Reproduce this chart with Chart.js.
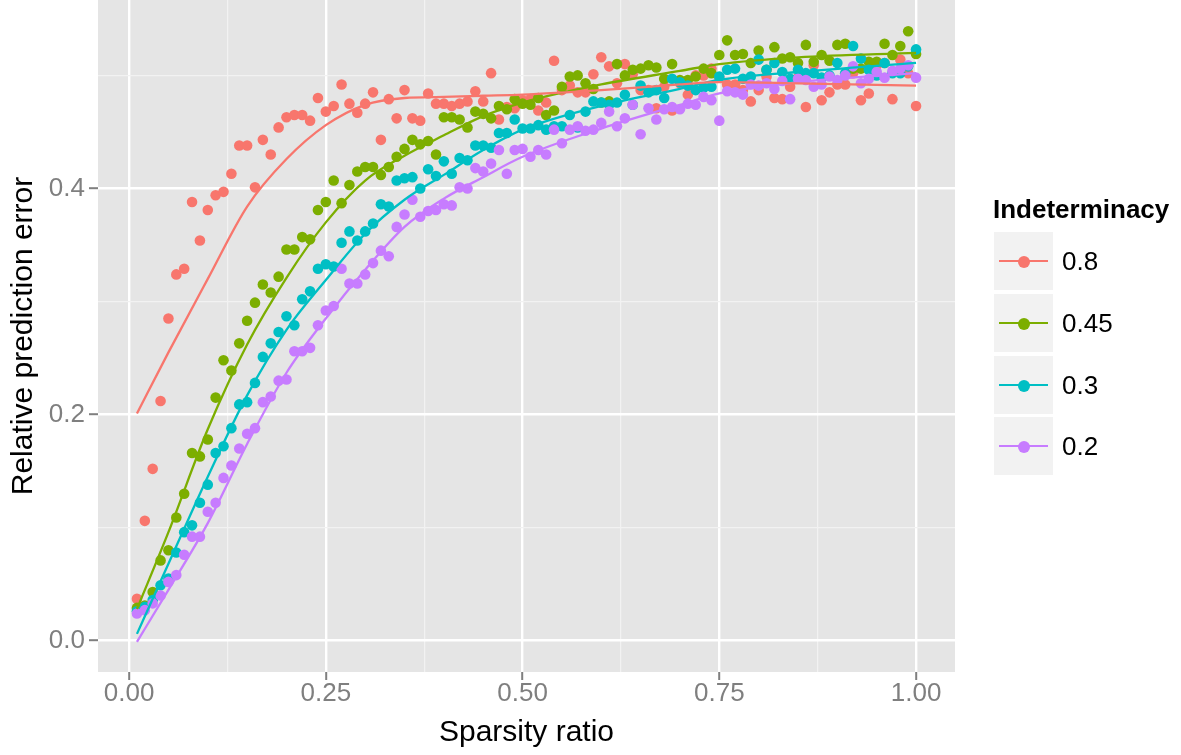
<!DOCTYPE html>
<html>
<head>
<meta charset="utf-8">
<script src="https://cdn.jsdelivr.net/npm/chart.js@4.4.1/dist/chart.umd.min.js"></script>
<style>
  body { margin: 0; background: #fff; font-family: "Liberation Sans", Arial, sans-serif; }
  #wrap { position: relative; width: 1181px; height: 755px; }
  #legend { position: absolute; left: 0; top: 0; }
  .lg-title { position: absolute; left: 993px; top: 195px; font-size: 26px; line-height: 28px; font-weight: bold; color: #000; white-space: nowrap; }
  .lg-key { position: absolute; left: 994px; width: 59px; height: 58px; background: #F2F2F2; }
  .lg-line { position: absolute; left: 5px; width: 49px; height: 2.4px; top: 27.8px; }
  .lg-dot { position: absolute; left: 23.5px; top: 23.5px; width: 12px; height: 12px; border-radius: 50%; }
  .lg-text { position: absolute; left: 1062px; height: 58px; line-height: 58px; font-size: 26px; color: #000; }
</style>
</head>
<body>
<div id="wrap">
  <canvas id="chart" width="1181" height="755"></canvas>
  <div id="legend"></div>
</div>
<script>
// x positions of the observations (sparsity ratio)
const sparsity = [
  0.01, 0.02, 0.03, 0.04, 0.05, 0.06, 0.07, 0.08, 0.09, 0.10,
  0.11, 0.12, 0.13, 0.14, 0.15, 0.16, 0.17, 0.18, 0.19, 0.20,
  0.21, 0.22, 0.23, 0.24, 0.25, 0.26, 0.27, 0.28, 0.29, 0.30,
  0.31, 0.32, 0.33, 0.34, 0.35, 0.36, 0.37, 0.38, 0.39, 0.40,
  0.41, 0.42, 0.43, 0.44, 0.45, 0.46, 0.47, 0.48, 0.49, 0.50,
  0.51, 0.52, 0.53, 0.54, 0.55, 0.56, 0.57, 0.58, 0.59, 0.60,
  0.61, 0.62, 0.63, 0.64, 0.65, 0.66, 0.67, 0.68, 0.69, 0.70,
  0.71, 0.72, 0.73, 0.74, 0.75, 0.76, 0.77, 0.78, 0.79, 0.80,
  0.81, 0.82, 0.83, 0.84, 0.85, 0.86, 0.87, 0.88, 0.89, 0.90,
  0.91, 0.92, 0.93, 0.94, 0.95, 0.96, 0.97, 0.98, 0.99, 1.00
];

// relative prediction error, one array per indeterminacy level
const err08 = [
  0.037, 0.106, 0.152, 0.212, 0.285, 0.324, 0.329, 0.388, 0.354, 0.381,
  0.394, 0.397, 0.413, 0.438, 0.438, 0.401, 0.443, 0.430, 0.454, 0.463,
  0.465, 0.465, 0.460, 0.480, 0.468, 0.473, 0.492, 0.475, 0.467, 0.475,
  0.485, 0.443, 0.479, 0.462, 0.487, 0.462, 0.460, 0.484, 0.475, 0.475,
  0.473, 0.475, 0.477, 0.486, 0.477, 0.502, 0.461, 0.472, 0.471, 0.478,
  0.479, 0.469, 0.476, 0.513, 0.487, 0.491, 0.485, 0.485, 0.501, 0.516,
  0.508, 0.493, 0.510, 0.501, 0.487, 0.487, 0.471, 0.490, 0.469, 0.493,
  0.483, 0.500, 0.500, 0.506, 0.498, 0.492, 0.492, 0.487, 0.477, 0.487,
  0.499, 0.480, 0.479, 0.490, 0.498, 0.472, 0.509, 0.478, 0.485, 0.492,
  0.492, 0.502, 0.478, 0.484, 0.509, 0.511, 0.479, 0.514, 0.502, 0.473
];
const err045 = [
  0.029, 0.031, 0.043, 0.071, 0.080, 0.109, 0.130, 0.166, 0.163, 0.178,
  0.215, 0.248, 0.239, 0.263, 0.283, 0.299, 0.315, 0.308, 0.322, 0.346,
  0.346, 0.357, 0.355, 0.381, 0.388, 0.407, 0.387, 0.403, 0.415, 0.419,
  0.419, 0.412, 0.419, 0.428, 0.435, 0.443, 0.439, 0.442, 0.430, 0.463,
  0.463, 0.461, 0.454, 0.468, 0.466, 0.462, 0.473, 0.470, 0.479, 0.475,
  0.474, 0.480, 0.465, 0.469, 0.490, 0.499, 0.500, 0.493, 0.488, 0.476,
  0.477, 0.510, 0.500, 0.505, 0.506, 0.509, 0.507, 0.497, 0.510, 0.496,
  0.496, 0.499, 0.506, 0.502, 0.518, 0.531, 0.518, 0.519, 0.511, 0.522,
  0.505, 0.525, 0.515, 0.516, 0.511, 0.527, 0.512, 0.518, 0.513, 0.527,
  0.528, 0.506, 0.506, 0.512, 0.512, 0.528, 0.518, 0.526, 0.539, 0.519
];
const err03 = [
  0.026, 0.030, 0.036, 0.049, 0.055, 0.078, 0.096, 0.102, 0.122, 0.138,
  0.166, 0.172, 0.188, 0.209, 0.211, 0.228, 0.251, 0.263, 0.273, 0.287,
  0.279, 0.302, 0.309, 0.329, 0.333, 0.331, 0.352, 0.362, 0.354, 0.362,
  0.369, 0.386, 0.384, 0.407, 0.409, 0.410, 0.400, 0.417, 0.411, 0.424,
  0.413, 0.427, 0.425, 0.438, 0.438, 0.436, 0.449, 0.449, 0.461, 0.453,
  0.453, 0.456, 0.452, 0.455, 0.455, 0.465, 0.454, 0.468, 0.477, 0.476,
  0.474, 0.476, 0.483, 0.474, 0.491, 0.485, 0.487, 0.480, 0.497, 0.494,
  0.491, 0.487, 0.489, 0.490, 0.499, 0.505, 0.506, 0.497, 0.499, 0.514,
  0.505, 0.511, 0.503, 0.497, 0.505, 0.502, 0.502, 0.498, 0.500, 0.511,
  0.502, 0.526, 0.515, 0.505, 0.500, 0.511, 0.502, 0.502, 0.508, 0.523
];
const err02 = [
  0.024, 0.027, 0.033, 0.040, 0.052, 0.058, 0.076, 0.092, 0.092, 0.114,
  0.122, 0.144, 0.155, 0.170, 0.183, 0.188, 0.211, 0.216, 0.230, 0.231,
  0.256, 0.256, 0.259, 0.279, 0.292, 0.296, 0.329, 0.316, 0.316, 0.324,
  0.334, 0.345, 0.340, 0.366, 0.377, 0.390, 0.375, 0.380, 0.381, 0.386,
  0.385, 0.401, 0.400, 0.418, 0.415, 0.422, 0.434, 0.413, 0.434, 0.435,
  0.428, 0.434, 0.430, 0.452, 0.440, 0.452, 0.455, 0.451, 0.452, 0.458,
  0.468, 0.455, 0.462, 0.474, 0.448, 0.471, 0.461, 0.470, 0.472, 0.470,
  0.475, 0.474, 0.481, 0.478, 0.460, 0.486, 0.485, 0.483, 0.492, 0.491,
  0.493, 0.488, 0.495, 0.479, 0.497, 0.496, 0.490, 0.492, 0.499, 0.496,
  0.500, 0.508, 0.493, 0.497, 0.503, 0.498, 0.504, 0.506, 0.509, 0.498
];

// smoothed trend lines
const fitX   = [0.01, 0.05, 0.10, 0.15, 0.20, 0.25, 0.30, 0.35, 0.40, 0.45, 0.50, 0.60, 0.70, 0.75, 0.85, 1.00];
const fit08  = [0.201, 0.255, 0.320, 0.384, 0.426, 0.456, 0.474, 0.480, 0.481, 0.482, 0.483, 0.487, 0.492, 0.494, 0.493, 0.491];
const fit045 = [0.028, 0.096, 0.187, 0.262, 0.321, 0.370, 0.407, 0.429, 0.447, 0.464, 0.476, 0.492, 0.504, 0.510, 0.516, 0.520];
const fit03  = [0.006, 0.068, 0.145, 0.217, 0.275, 0.319, 0.360, 0.390, 0.412, 0.434, 0.452, 0.473, 0.488, 0.496, 0.503, 0.511];
const fit02  = [-0.001, 0.045, 0.104, 0.174, 0.237, 0.285, 0.328, 0.366, 0.391, 0.410, 0.428, 0.453, 0.474, 0.484, 0.494, 0.502];

const groupNames  = ['0.8', '0.45', '0.3', '0.2'];
const groupColors = ['#F8766D', '#7CAE00', '#00BFC4', '#C77CFF'];

const xTicks      = [0, 0.25, 0.5, 0.75, 1];
const xTickLabels = ['0.00', '0.25', '0.50', '0.75', '1.00'];
const xMinor      = [0.125, 0.375, 0.625, 0.875];
const yTicks      = [0, 0.2, 0.4];
const yTickLabels = ['0.0', '0.2', '0.4'];
const yMinor      = [0.1, 0.3, 0.5];

const errors = [err08, err045, err03, err02];
const fits = [fit08, fit045, fit03, fit02];

function pairs(xs, ys) {
  return xs.map((x, i) => ({ x: x, y: ys[i] }));
}

const datasets = [];
// trend lines on top of the points
fits.forEach((f, g) => {
  datasets.push({
    label: groupNames[g] + ' fit',
    data: pairs(fitX, f),
    showLine: true,
    borderColor: groupColors[g],
    borderWidth: 2.3,
    pointRadius: 0,
    cubicInterpolationMode: 'monotone',
    order: 0
  });
});
errors.forEach((e, g) => {
  datasets.push({
    label: groupNames[g],
    data: pairs(sparsity, e),
    showLine: false,
    pointRadius: 5.3,
    pointBorderWidth: 0,
    pointBackgroundColor: groupColors[g],
    borderColor: groupColors[g],
    order: 4 - g
  });
});

function tickSetter(major, minor) {
  return scale => {
    scale.ticks = major.concat(minor).sort((a, b) => a - b).map(v => ({ value: v }));
  };
}

const isMajor = (list, v) => list.some(m => Math.abs(m - v) < 1e-9);

const panelBg = {
  id: 'panelBg',
  beforeDraw(chart) {
    const { ctx, chartArea: a } = chart;
    ctx.save();
    ctx.fillStyle = '#E5E5E5';
    ctx.fillRect(a.left, a.top, a.right - a.left, a.bottom - a.top);
    ctx.restore();
  }
};

new Chart(document.getElementById('chart'), {
  type: 'scatter',
  data: { datasets: datasets },
  options: {
    responsive: false,
    animation: false,
    devicePixelRatio: 1,
    layout: { autoPadding: false, padding: { left: 0, right: 226, top: 0, bottom: 0 } },
    plugins: { legend: { display: false }, tooltip: { enabled: false } },
    scales: {
      x: {
        type: 'linear',
        min: -0.0395,
        max: 1.0495,
        afterBuildTicks: tickSetter(xTicks, xMinor),
        afterFit: s => { s.height = 83; s.paddingLeft = 0; s.paddingRight = 0; },
        border: { display: false },
        grid: {
          color: c => isMajor(xTicks, c.tick.value) ? '#FFFFFF' : '#F2F2F2',
          lineWidth: c => isMajor(xTicks, c.tick.value) ? 2.4 : 1.2,
          tickColor: c => isMajor(xTicks, c.tick.value) ? '#7F7F7F' : 'rgba(0,0,0,0)',
          tickWidth: 2,
          tickLength: 8
        },
        ticks: {
          autoSkip: false,
          maxRotation: 0,
          padding: -2,
          color: '#7F7F7F',
          font: { family: 'Liberation Sans', size: 26 },
          callback: v => {
            const k = xTicks.findIndex(m => Math.abs(m - v) < 1e-9);
            return k >= 0 ? xTickLabels[k] : '';
          }
        },
        title: {
          display: true,
          text: 'Sparsity ratio',
          color: '#000',
          font: { family: 'Liberation Sans', size: 30 },
          padding: { top: 0, bottom: 4 }
        }
      },
      y: {
        type: 'linear',
        min: -0.0277,
        max: 0.5667,
        afterBuildTicks: tickSetter(yTicks, yMinor),
        afterFit: s => { s.width = 98; s.paddingTop = 0; s.paddingBottom = 0; },
        border: { display: false },
        grid: {
          color: c => isMajor(yTicks, c.tick.value) ? '#FFFFFF' : '#F2F2F2',
          lineWidth: c => isMajor(yTicks, c.tick.value) ? 2.4 : 1.2,
          tickColor: c => isMajor(yTicks, c.tick.value) ? '#7F7F7F' : 'rgba(0,0,0,0)',
          tickWidth: 2,
          tickLength: 9
        },
        ticks: {
          autoSkip: false,
          padding: 4,
          color: '#7F7F7F',
          font: { family: 'Liberation Sans', size: 26 },
          callback: v => {
            const k = yTicks.findIndex(m => Math.abs(m - v) < 1e-9);
            return k >= 0 ? yTickLabels[k] : '';
          }
        },
        title: {
          display: true,
          text: 'Relative prediction error',
          color: '#000',
          font: { family: 'Liberation Sans', size: 30 },
          padding: { top: 6, bottom: 0 }
        }
      }
    }
  },
  plugins: [panelBg]
});

// legend in ggplot style
const legend = document.getElementById('legend');
const title = document.createElement('div');
title.className = 'lg-title';
title.textContent = 'Indeterminacy';
legend.appendChild(title);
const keyTops = [232, 294, 356, 417];
groupNames.forEach((name, g) => {
  const key = document.createElement('div');
  key.className = 'lg-key';
  key.style.top = keyTops[g] + 'px';
  const line = document.createElement('div');
  line.className = 'lg-line';
  line.style.background = groupColors[g];
  const dot = document.createElement('div');
  dot.className = 'lg-dot';
  dot.style.background = groupColors[g];
  key.appendChild(line);
  key.appendChild(dot);
  legend.appendChild(key);
  const txt = document.createElement('div');
  txt.className = 'lg-text';
  txt.style.top = keyTops[g] + 'px';
  txt.textContent = name;
  legend.appendChild(txt);
});
</script>
</body>
</html>
